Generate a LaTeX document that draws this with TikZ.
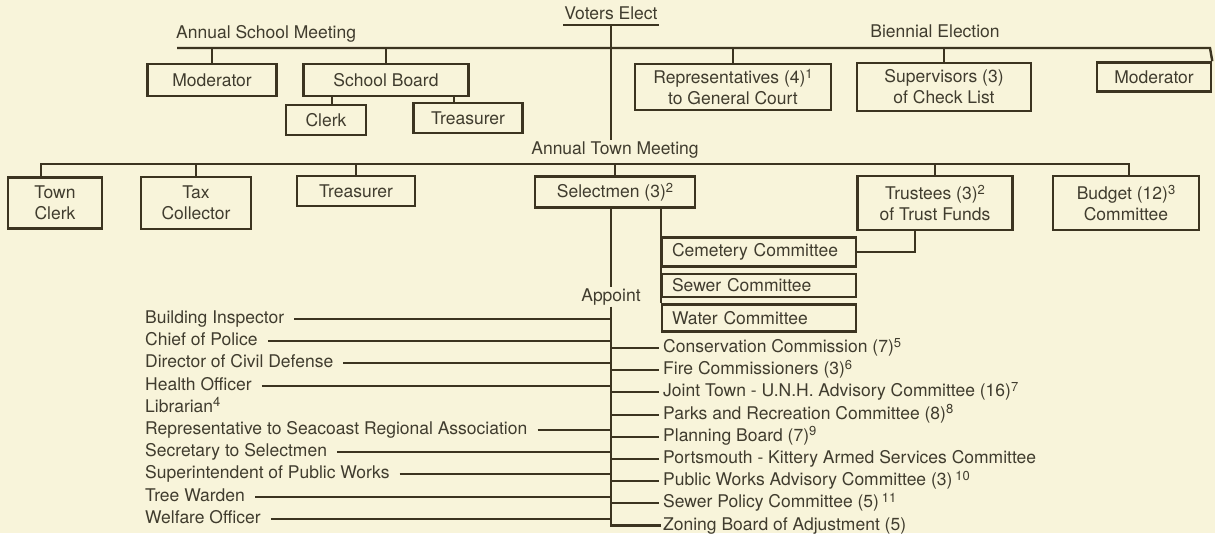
\documentclass[tikz,border=0pt]{standalone}
\usepackage{fontspec}
\setmainfont{TeX Gyre Heros}
\usepackage{tikz}
\usetikzlibrary{positioning}

\definecolor{paper}{RGB}{248,244,218}
\definecolor{ink}{RGB}{60,52,32}
\definecolor{txt}{RGB}{64,60,46}
\newcommand{\noteno}[1]{\raisebox{5.5pt}{\fontsize{13}{13}\selectfont#1}}

\begin{document}
\begin{tikzpicture}[
  x=1pt, y=-1pt,
  lbl/.style={text=txt, font=\fontsize{17.5}{21}\selectfont, inner sep=1pt, text height=13pt, text depth=4pt},
  office/.style={draw=ink, line width=2.6pt, text=txt, font=\fontsize{17.5}{21}\selectfont, inner sep=0pt, align=center},
  cttee/.style={office, text width=174pt, inner xsep=10pt, align=left},
  item/.style={text=txt, font=\fontsize{17.5}{21}\selectfont, inner xsep=2pt, inner ysep=2.4pt, text height=13pt, text depth=4pt},
  link/.style={draw=ink, line width=2.4pt},
  feed/.style={draw=ink, line width=2pt, shorten <=8pt},
  feedr/.style={draw=ink, line width=2pt, shorten >=2pt}
]
\fill[paper] (0,0) rectangle (1215,533);

% elected at the polls
\node[lbl, anchor=south] (voters) at (611,25) {Voters Elect};
\node[lbl, anchor=west] (asm) at (175,34) {Annual School Meeting};
\node[lbl] (bien) at (935,33) {Biennial Election};
\coordinate (l1w) at (177,48);
\coordinate (l1e) at (1210,48);

\node[office, minimum width=129pt, minimum height=32pt] (modS) at (212,80) {Moderator};
\node[office, minimum width=165pt, minimum height=32pt] (sboard) at (386,80) {School Board};
\node[office, minimum width=80pt, minimum height=30pt] (clerkS) at (326,120) {Clerk};
\node[office, minimum width=109pt, minimum height=30pt] (treasS) at (468,118) {Treasurer};
\node[office, minimum width=196pt, minimum height=46pt] (reps) at (733,87) {Representatives (4)\noteno{1}\\to General Court};
\node[office, minimum width=174pt, minimum height=48pt] (supv) at (944,87) {Supervisors (3)\\of Check List};
\node[office, minimum width=114pt, minimum height=29pt] (modB) at (1154,77) {Moderator};

% town meeting
\node[lbl] (atm) at (615,150) {Annual Town Meeting};
\coordinate (l2w) at (41,164);
\coordinate (l2e) at (1129,164);

\node[office, minimum width=94pt, minimum height=51pt] (tclerk) at (55,203) {Town\\Clerk};
\node[office, minimum width=110pt, minimum height=52pt] (taxc) at (196,203) {Tax\\Collector};
\node[office, minimum width=118pt, minimum height=30pt] (treasT) at (356,191) {Treasurer};
\node[office, minimum width=160pt, minimum height=31pt] (selm) at (615,192) {Selectmen (3)\noteno{2}};
\node[office, minimum width=155pt, minimum height=54pt] (trust) at (935,203) {Trustees (3)\noteno{2}\\of Trust Funds};
\node[office, minimum width=146pt, minimum height=54pt] (budget) at (1126,203) {Budget (12)\noteno{3}\\Committee};

\node[cttee, minimum height=29pt] (cem) at (759,252) {Cemetery Committee};
\node[cttee, minimum height=23pt] (sewer) at (759,285.5) {Sewer Committee};
\node[cttee, minimum height=27pt] (water) at (759,318) {Water Committee};

% appointed by the selectmen
\node[lbl] (appoint) at (611,297) {Appoint};

\node[item, anchor=west] (bldg) at (143,319) {Building Inspector};
\node[item, below=0pt of bldg.south west, anchor=north west] (police) {Chief of Police};
\node[item, below=0pt of police.south west, anchor=north west] (civdef) {Director of Civil Defense};
\node[item, below=0pt of civdef.south west, anchor=north west] (health) {Health Officer};
\node[item, below=0pt of health.south west, anchor=north west] (libr) {Librarian\noteno{4}};
\node[item, below=0pt of libr.south west, anchor=north west] (seacoast) {Representative to Seacoast Regional Association};
\node[item, below=0pt of seacoast.south west, anchor=north west] (secy) {Secretary to Selectmen};
\node[item, below=0pt of secy.south west, anchor=north west] (supt) {Superintendent of Public Works};
\node[item, below=0pt of supt.south west, anchor=north west] (tree) {Tree Warden};
\node[item, below=0pt of tree.south west, anchor=north west] (welf) {Welfare Officer};

\node[item, anchor=west] (cons) at (661,348) {Conservation Commission (7)\noteno{5}};
\node[item, below=0pt of cons.south west, anchor=north west] (fire) {Fire Commissioners (3)\noteno{6}};
\node[item, below=0pt of fire.south west, anchor=north west] (unh) {Joint Town - U.N.H. Advisory Committee (16)\noteno{7}};
\node[item, below=0pt of unh.south west, anchor=north west] (parks) {Parks and Recreation Committee (8)\noteno{8}};
\node[item, below=0pt of parks.south west, anchor=north west] (plan) {Planning Board (7)\noteno{9}};
\node[item, below=0pt of plan.south west, anchor=north west] (armed) {Portsmouth - Kittery Armed Services Committee};
\node[item, below=0pt of armed.south west, anchor=north west] (pwac) {Public Works Advisory Committee (3)\,\noteno{10}};
\node[item, below=0pt of pwac.south west, anchor=north west] (spc) {Sewer Policy Committee (5)\,\noteno{11}};
\node[item, below=0pt of spc.south west, anchor=north west] (zba) {Zoning Board of Adjustment (5)};

% top level
\draw[link] (voters.south west) -- (voters.south east);
\draw[link] (voters.south) -- (voters.south |- atm.north);
\draw[link] (l1w) -- (l1e) -- (modB.north east);
\draw[link] (modS.north) -- (modS.north |- l1w);
\draw[link] (sboard.north) -- (sboard.north |- l1w);
\draw[link] (reps.north) -- (reps.north |- l1w);
\draw[link] (supv.north) -- (supv.north |- l1w);
\draw[link] ([xshift=6pt]clerkS.north) -- ([xshift=6pt]clerkS.north |- sboard.south);
\draw[link] ([xshift=-14pt]treasS.north) -- ([xshift=-14pt]treasS.north |- sboard.south);

% town level
\draw[link] (l2w |- tclerk.north) -- (l2w) -- (l2e) -- (l2e |- budget.north);
\draw[link] (taxc.north) -- (taxc.north |- l2w);
\draw[link] (treasT.north) -- (treasT.north |- l2w);
\draw[link] (selm.north) -- (selm.north |- l2w);
\draw[link] (trust.north) -- (trust.north |- l2w);
\draw[link] ([xshift=-20pt]trust.south) |- (cem.east);
\draw[link] (cem.west |- selm.south) -- (water.north west);

% appointments
\draw[link] (appoint.north |- selm.south) -- (appoint.north);
\draw[link] (appoint.south) -- (appoint.south |- zba.west) -- (zba.west);
\draw[feed] (bldg.east) -- (bldg.east -| appoint.south);
\draw[feed] (police.east) -- (police.east -| appoint.south);
\draw[feed] (civdef.east) -- (civdef.east -| appoint.south);
\draw[feed] (health.east) -- (health.east -| appoint.south);
\draw[feed] (seacoast.east) -- (seacoast.east -| appoint.south);
\draw[feed] (secy.east) -- (secy.east -| appoint.south);
\draw[feed] (supt.east) -- (supt.east -| appoint.south);
\draw[feed] (tree.east) -- (tree.east -| appoint.south);
\draw[feed] (welf.east) -- (welf.east -| appoint.south);
\draw[feedr] (cons.west -| appoint.south) -- (cons.west);
\draw[feedr] (fire.west -| appoint.south) -- (fire.west);
\draw[feedr] (unh.west -| appoint.south) -- (unh.west);
\draw[feedr] (parks.west -| appoint.south) -- (parks.west);
\draw[feedr] (plan.west -| appoint.south) -- (plan.west);
\draw[feedr] (armed.west -| appoint.south) -- (armed.west);
\draw[feedr] (pwac.west -| appoint.south) -- (pwac.west);
\draw[feedr] (spc.west -| appoint.south) -- (spc.west);
\end{tikzpicture}
\end{document}
